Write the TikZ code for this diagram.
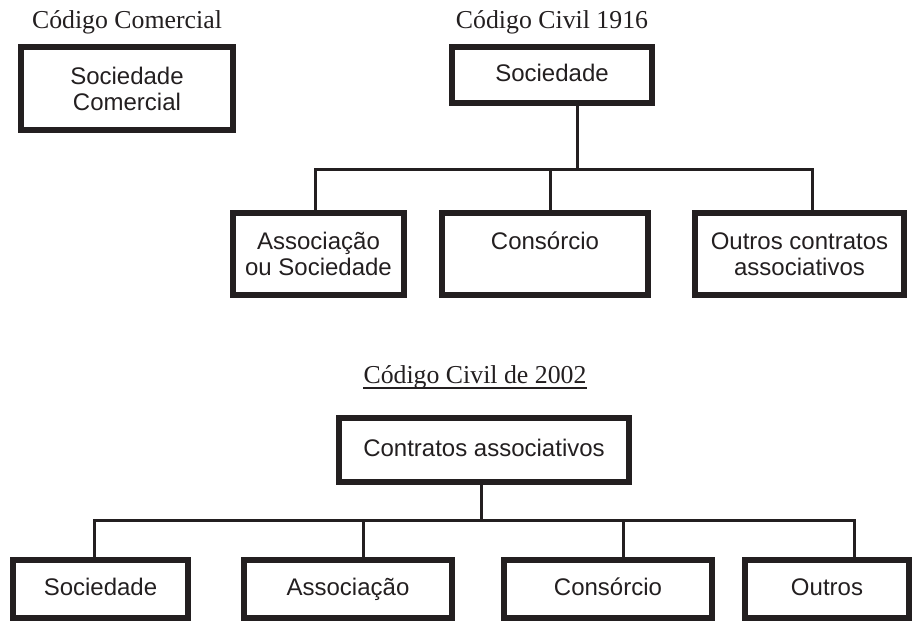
\documentclass[tikz,border=0pt]{standalone}
\usepackage{fontspec}
\setmainfont{Liberation Serif}
\newfontfamily\arialf{Liberation Sans}
\definecolor{ink}{HTML}{231F20}
\begin{document}
\begin{tikzpicture}[x=1pt,y=-1pt,
  box/.style={draw=ink, line width=6pt, inner sep=0pt, align=center,
    font=\arialf\fontsize{24}{26}\selectfont, text=ink},
  oneline/.style={text height=17pt, text depth=5pt},
  link/.style={draw=ink, line width=3pt},
  ttl/.style={font=\fontsize{25.8}{30}\selectfont, text=ink, inner sep=0pt, anchor=base}]
\useasboundingbox (0,0) rectangle (922,624);

% titles
\node[ttl] (tcom) at (127,28) {Código Comercial};
\node[ttl] (t1916) at (552,28) {Código Civil 1916};
\node[ttl] (t2002) at (475,383) {Código Civil de 2002};
\draw[ink, line width=1.3pt] ([yshift=-5pt]t2002.base west) -- ([yshift=-5pt]t2002.base east);

% top boxes
\node[box, minimum width=212, minimum height=83] (scom) at (127,88.5) {Sociedade\\Comercial};
\node[box, oneline, minimum width=200, minimum height=56] (soc16) at (552,75) {Sociedade};
\node[box, minimum width=171, minimum height=82] (ass16) at (318.5,254) {Associação\\ou Sociedade};
\node[box, minimum width=206, minimum height=82] (con16) at (545,254) {Consórcio\\\mbox{}};
\node[box, minimum width=209, minimum height=82] (out16) at (799.5,254) {Outros contratos\\associativos};

% 2002 boxes
\node[box, oneline, minimum width=290, minimum height=64] (contr) at (484,450) {Contratos associativos};
\node[box, oneline, minimum width=175, minimum height=58] (soc02) at (100.5,589) {Sociedade};
\node[box, oneline, minimum width=208, minimum height=58] (ass02) at (348,589) {Associação};
\node[box, oneline, minimum width=208, minimum height=58] (con02) at (608,589) {Consórcio};
\node[box, oneline, minimum width=164, minimum height=58] (out02) at (827,589) {Outros};

% connectors 1916
\coordinate (j16) at (577,169);
\coordinate (a1) at (315,169);
\coordinate (a2) at (550,169);
\coordinate (a3) at (812,169);
\draw[link] (j16 |- soc16.south) -- (j16);
\draw[link] (a1 |- ass16.north) -- (a1) -- (a3) -- (a3 |- out16.north);
\draw[link] (a2) -- (a2 |- con16.north);

% connectors 2002
\coordinate (j02) at (481,520);
\coordinate (b1) at (94,520);
\coordinate (b2) at (363,520);
\coordinate (b3) at (623,520);
\coordinate (b4) at (854,520);
\draw[link] (j02 |- contr.south) -- (j02);
\draw[link] (b1 |- soc02.north) -- (b1) -- (b4) -- (b4 |- out02.north);
\draw[link] (b2) -- (b2 |- ass02.north);
\draw[link] (b3) -- (b3 |- con02.north);
\end{tikzpicture}
\end{document}
